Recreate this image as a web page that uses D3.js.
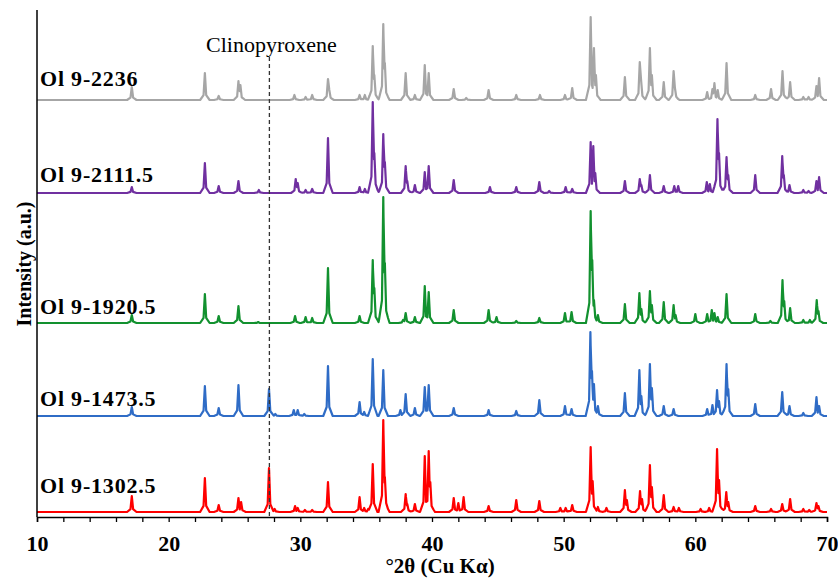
<!DOCTYPE html>
<html>
<head>
<meta charset="utf-8">
<script src="https://cdn.jsdelivr.net/npm/d3@7"></script>
<style>
  body { margin: 0; background: #fff; }
  svg { display: block; }
</style>
</head>
<body>
<div id="chart"></div>
<script>
// samples, bottom to top
const samples = ["Ol 9-1302.5", "Ol 9-1473.5", "Ol 9-1920.5", "Ol 9-2111.5", "Ol 9-2236"];
const colors = ["#ff0000", "#2f6cc6", "#12912f", "#7030a0", "#a6a6a6"];
// vertical stacking offset of each pattern (intensity units)
const stackOffset = [5, 101, 194, 324, 417];

// peak tables [2θ, intensity]
const peaks1302 = [
  [17.2, 16], [22.75, 34], [23.8, 7], [25.3, 14], [25.5, 10], [27.62, 44], [28.05, 3], [29.6, 6], [29.8, 4],
  [30.35, 2], [30.9, 2], [32.1, 30], [34.5, 15], [34.85, 4], [35.15, 3], [35.5, 48], [36.3, 92], [36.42, 35],
  [38.0, 18], [38.12, 8], [38.7, 8], [39.45, 56], [39.75, 61], [39.87, 30], [41.65, 14], [42.0, 9], [42.4, 15],
  [44.3, 6], [46.4, 12], [48.15, 11], [49.75, 4], [50.15, 4], [50.65, 7], [52.05, 65], [52.2, 31], [52.6, 5],
  [53.25, 4], [54.65, 22], [54.8, 12], [55.8, 21], [55.95, 13], [56.55, 47], [56.7, 25], [57.6, 17], [58.35, 5],
  [58.75, 4], [60.4, 3], [61.05, 4], [61.65, 63], [61.8, 32], [62.35, 20], [62.5, 10], [64.55, 6], [65.75, 3],
  [66.6, 8], [67.2, 13], [68.2, 3], [68.65, 2], [69.2, 9], [69.35, 6]
];
const peaks1473 = [
  [17.2, 9], [22.75, 30], [23.8, 8], [25.3, 31], [27.62, 27], [28.1, 2], [29.5, 6], [29.8, 6], [30.3, 2],
  [32.1, 50], [34.5, 14], [34.85, 4], [35.5, 57], [36.3, 46], [37.6, 6], [38.0, 22], [38.7, 8], [39.45, 29],
  [39.75, 31], [41.65, 8], [44.3, 6], [46.4, 5], [48.15, 16], [50.1, 10], [50.6, 7], [52.03, 84], [52.15, 45],
  [52.3, 32], [52.6, 10], [54.65, 23], [55.75, 46], [55.9, 20], [56.55, 52], [56.7, 28], [57.6, 10], [58.35, 7],
  [60.9, 7], [61.3, 11], [61.65, 26], [61.8, 15], [62.37, 52], [62.5, 27], [64.55, 12], [66.6, 24], [67.15, 10],
  [68.2, 3], [69.2, 19], [69.4, 10]
];
const peaks1920 = [
  [17.2, 8], [22.75, 29], [23.8, 7], [25.3, 17], [26.8, 1], [29.6, 7], [30.4, 6], [30.9, 5], [32.1, 55],
  [34.5, 7], [35.5, 63], [35.62, 35], [36.3, 126], [36.42, 60], [37.8, 3], [38.0, 10], [38.7, 6], [39.45, 37],
  [39.75, 31], [41.65, 13], [44.3, 13], [44.9, 6], [46.4, 2], [48.15, 5], [50.1, 10], [50.6, 11], [52.05, 112],
  [52.17, 63], [52.3, 23], [52.6, 8], [54.65, 19], [55.75, 30], [55.9, 14], [56.55, 32], [56.7, 18], [57.6, 21],
  [58.35, 18], [58.5, 8], [60.0, 9], [60.9, 9], [61.25, 13], [61.45, 10], [61.7, 6], [62.37, 29], [64.55, 9],
  [65.7, 2], [66.62, 43], [66.75, 22], [67.2, 15], [68.2, 3], [68.7, 3], [69.22, 23], [69.35, 12]
];
const peaks2111 = [
  [17.2, 6], [22.75, 30], [23.8, 7], [25.3, 12], [26.85, 3], [29.65, 14], [29.8, 10], [30.4, 3], [30.9, 4],
  [32.1, 55], [34.5, 6], [34.9, 4], [35.5, 91], [35.62, 40], [36.3, 59], [36.42, 31], [38.0, 27], [38.12, 12],
  [38.7, 8], [39.45, 21], [39.75, 27], [41.65, 13], [44.4, 6], [46.4, 6], [48.15, 11], [48.9, 2], [50.15, 6],
  [50.65, 4], [52.05, 51], [52.25, 47], [52.4, 20], [54.65, 12], [55.78, 14], [55.9, 8], [56.55, 18], [57.6, 7],
  [58.4, 7], [58.7, 7], [60.87, 11], [61.1, 9], [61.68, 74], [61.8, 40], [62.37, 36], [62.5, 18], [64.55, 18],
  [66.6, 37], [66.72, 18], [67.15, 8], [68.2, 3], [68.6, 2], [69.2, 12], [69.4, 16]
];
const peaks2236 = [
  [17.2, 13], [22.75, 27], [23.8, 4], [25.3, 19], [25.45, 15], [29.55, 5], [30.4, 3], [30.9, 5], [32.1, 21],
  [32.2, 10], [34.5, 5], [34.9, 5], [35.5, 54], [35.62, 25], [36.3, 76], [36.42, 37], [38.0, 27], [38.7, 5],
  [39.45, 35], [39.75, 27], [41.65, 11], [42.6, 2], [44.3, 10], [46.4, 5], [48.2, 5], [50.1, 5], [50.65, 12],
  [52.05, 83], [52.3, 52], [52.45, 25], [54.65, 23], [55.78, 38], [55.88, 20], [56.55, 52], [56.7, 25],
  [57.6, 18], [58.35, 29], [58.45, 12], [60.9, 8], [61.3, 11], [61.45, 17], [61.7, 10], [62.37, 37],
  [64.55, 5], [65.75, 11], [66.62, 29], [67.2, 18], [68.2, 3], [68.6, 3], [69.2, 14], [69.4, 22]
];
const patterns = [peaks1302, peaks1473, peaks1920, peaks2111, peaks2236];

const xDomain = [10, 70];
const xTicks = d3.range(10, 71, 2);
const markerPos = 27.65;
const markerLabel = "Clinopyroxene";
const xTitle = "°2θ (Cu Kα)";
const yTitle = "Intensity (a.u.)";

// layout
const width = 838, height = 579;
const font = "'Liberation Serif', 'Times New Roman', serif";
const labelLift = [19, 10, 9, 11, 14];

const x = d3.scaleLinear().domain(xDomain).range([37, 827]);
const y = d3.scaleLinear().domain([0, 510]).range([517, 7]);

// narrow peak shape: offsets in °2θ and fraction of peak height
const shapeDx = [-0.36, -0.1, 0, 0.1, 0.36];
const shapeF = [0, 0.18, 1, 0.18, 0];

function peakAt(p, t) {
  const d = t - p[0];
  if (d <= shapeDx[0] || d >= shapeDx[shapeDx.length - 1]) return 0;
  for (let i = 1; i < shapeDx.length; i++) {
    if (d <= shapeDx[i]) {
      const u = (d - shapeDx[i - 1]) / (shapeDx[i] - shapeDx[i - 1]);
      return p[1] * (shapeF[i - 1] + u * (shapeF[i] - shapeF[i - 1]));
    }
  }
  return 0;
}

function profile(peaks) {
  const xs = new Set(xDomain);
  peaks.forEach(p => shapeDx.forEach(dx => xs.add(+(p[0] + dx).toFixed(3))));
  return Array.from(xs).sort((a, b) => a - b)
    .filter(t => t >= xDomain[0] && t <= xDomain[1])
    .map(t => [t, d3.max(peaks, p => peakAt(p, t))]);
}

const svg = d3.select("#chart").append("svg")
  .attr("width", width)
  .attr("height", height)
  .style("font-family", font);

// patterns
patterns.forEach((peaks, i) => {
  const line = d3.line()
    .x(d => x(d[0]))
    .y(d => y(d[1] + stackOffset[i]));
  svg.append("path")
    .datum(profile(peaks))
    .attr("d", line)
    .attr("fill", "none")
    .attr("stroke", colors[i])
    .attr("stroke-width", 2.2)
    .attr("stroke-linejoin", "round");

  svg.append("text")
    .attr("x", 40)
    .attr("y", y(stackOffset[i]) - labelLift[i])
    .attr("font-size", 22)
    .attr("font-weight", "bold")
    .attr("letter-spacing", 0.8)
    .text(samples[i]);
});

// clinopyroxene marker
svg.append("line")
  .attr("x1", x(markerPos)).attr("x2", x(markerPos))
  .attr("y1", 57).attr("y2", y(0))
  .attr("stroke", "#333")
  .attr("stroke-width", 1.3)
  .attr("stroke-dasharray", "4,3");

svg.append("text")
  .attr("x", x(markerPos) + 2)
  .attr("y", 52)
  .attr("text-anchor", "middle")
  .attr("font-size", 22)
  .text(markerLabel);

// axes
const xAxis = svg.append("g")
  .attr("transform", `translate(0,${y(0)})`)
  .call(d3.axisBottom(x)
    .tickValues(xTicks)
    .tickFormat(d => d % 10 === 0 ? d : "")
    .tickSize(5)
    .tickPadding(13));
xAxis.attr("font-family", font);
xAxis.select(".domain").attr("stroke", "#000").attr("stroke-width", 1.5);
xAxis.selectAll(".tick line").attr("stroke", "#000").attr("stroke-width", 1.3);
xAxis.selectAll(".tick text")
  .attr("fill", "#000")
  .style("font-family", font)
  .style("font-size", "22px")
  .style("font-weight", "bold");

svg.append("line")
  .attr("x1", x(10)).attr("x2", x(10))
  .attr("y1", 10).attr("y2", y(0))
  .attr("stroke", "#000")
  .attr("stroke-width", 1.5);

svg.append("text")
  .attr("x", 440)
  .attr("y", 573)
  .attr("text-anchor", "middle")
  .attr("font-size", 21)
  .attr("font-weight", "bold")
  .text(xTitle);

svg.append("text")
  .attr("transform", "translate(31,264) rotate(-90)")
  .attr("text-anchor", "middle")
  .attr("font-size", 20)
  .attr("font-weight", "bold")
  .text(yTitle);
</script>
</body>
</html>
